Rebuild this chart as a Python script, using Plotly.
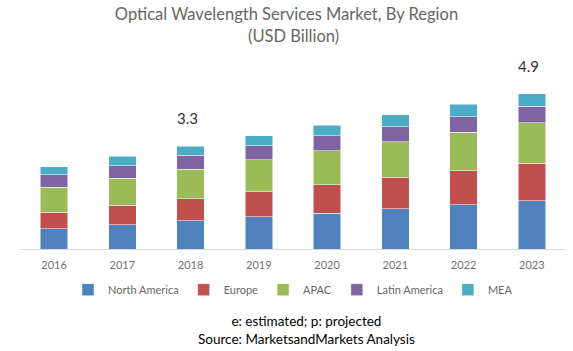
import plotly.graph_objects as go

years = ["2016", "2017", "2018", "2019", "2020", "2021", "2022", "2023"]
north_america = [0.645, 0.774, 0.90, 1.04, 1.15, 1.29, 1.42, 1.55]
europe = [0.535, 0.632, 0.71, 0.80, 0.90, 1.00, 1.08, 1.19]
apac = [0.79, 0.86, 0.945, 1.01, 1.10, 1.15, 1.24, 1.30]
latin_america = [0.40, 0.40, 0.44, 0.46, 0.47, 0.48, 0.50, 0.53]
mea = [0.26, 0.30, 0.30, 0.32, 0.345, 0.38, 0.39, 0.40]
label_years = ["2018", "2023"]
label_texts = ["3.3", "4.9"]

series = [
    ("North America", north_america, "#4F81BD"),
    ("Europe", europe, "#C0504D"),
    ("APAC", apac, "#9BBB59"),
    ("Latin America", latin_america, "#8064A2"),
    ("MEA", mea, "#4BACC6"),
]

fig = go.Figure()
for name, vals, color in series:
    fig.add_trace(go.Bar(x=years, y=vals, name=name, marker_color=color,
                         marker_line=dict(color="#FFFFFF", width=0.5)))

totals = [sum(s[1][i] for s in series) for i in range(len(years))]
for yr, txt in zip(label_years, label_texts):
    i = years.index(yr)
    fig.add_annotation(x=i, y=totals[i] + 0.55, text=txt, showarrow=False, yanchor="bottom",
                       xshift=-3, font=dict(size=15, color="#333333", family="Lato"))

title_font = dict(size=16.5, color="#666666", family="Lato")
fig.add_annotation(xref="paper", yref="paper", x=0.5, y=1 + (55 - 36) / 194, yanchor="middle",
                   xanchor="center", text="(USD Billion)", showarrow=False, font=title_font)

fig.add_annotation(xref="paper", yref="paper", x=0.525, y=-0.418, yanchor="middle",
                   text="e: estimated; p: projected<br>Source: MarketsandMarkets Analysis",
                   showarrow=False, font=dict(size=13.5, color="#000000", family="Lato"))

fig.update_layout(
    width=573, height=351,
    margin=dict(l=20, r=7, t=55, b=102),
    barmode="stack", bargap=0.6,
    paper_bgcolor="white", plot_bgcolor="white",
    title=dict(text="Optical Wavelength Services Market, By Region",
               x=0.5, xanchor="center", y=1 - 14 / 351, yanchor="middle",
               font=title_font),
    showlegend=True,
    legend=dict(orientation="h", x=0.5, xanchor="center", y=-0.135, yanchor="top",
                font=dict(size=11, color="#666666", family="Lato"), traceorder="normal",
                itemwidth=30),
    font=dict(family="Lato"),
)
fig.update_xaxes(type="category", range=[-0.5, 7.5], showline=True, linecolor="#D9D9D9",
                 linewidth=1, ticks="", showgrid=False, ticklabelstandoff=6,
                 tickfont=dict(size=11, color="#707070"))
fig.update_yaxes(visible=False, range=[0, 6.21], showgrid=False)

fig.write_html("out.html")
